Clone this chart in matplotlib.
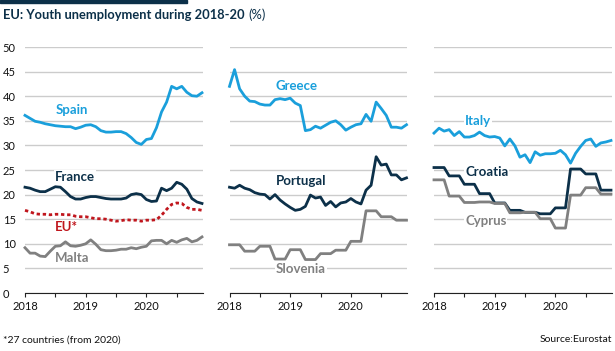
import matplotlib
matplotlib.use("Agg")
import matplotlib.pyplot as plt
from matplotlib.patches import Rectangle

plt.rcParams['font.family'] = ['Lato', 'DejaVu Sans']

# monthly values, Jan 2018 - Dec 2020
months = list(range(36))

spain = [36.1, 35.5, 34.9, 34.7, 34.4, 34.2, 34.0, 33.9, 33.8, 33.8, 33.4, 33.7,
         34.1, 34.2, 33.8, 33.0, 32.7, 32.7, 32.8, 32.8, 32.4, 31.6, 30.6, 30.2,
         31.2, 31.4, 33.6, 36.8, 38.8, 42.0, 41.5, 42.0, 40.8, 40.1, 40.0, 40.7]
france = [21.5, 21.3, 20.9, 20.6, 20.6, 21.1, 21.6, 21.5, 20.6, 19.6, 19.1, 19.1,
          19.4, 19.6, 19.6, 19.4, 19.2, 19.1, 19.1, 19.1, 19.3, 20.0, 20.2, 20.0,
          19.0, 18.6, 18.7, 21.3, 20.8, 21.3, 22.5, 22.1, 21.1, 19.2, 18.5, 18.2]
eu = [16.8, 16.5, 16.1, 16.0, 16.0, 15.9, 16.0, 16.0, 15.9, 15.9, 15.6, 15.5,
      15.5, 15.3, 15.1, 15.1, 15.0, 14.8, 14.6, 14.7, 14.9, 14.8, 14.8, 14.6,
      14.8, 14.8, 14.9, 15.8, 17.0, 18.0, 18.3, 18.2, 17.4, 17.0, 17.0, 16.8]
malta = [9.2, 8.1, 8.1, 7.5, 7.4, 8.5, 9.5, 9.6, 10.4, 9.6, 9.5, 9.7,
         10.0, 10.8, 9.9, 8.8, 8.6, 8.6, 8.7, 8.9, 8.9, 9.2, 9.0, 9.3,
         9.5, 10.6, 10.7, 10.7, 10.0, 10.7, 10.3, 10.8, 11.1, 10.4, 10.7, 11.4]

greece = [42.0, 45.4, 41.5, 40.0, 39.0, 38.9, 38.4, 38.2, 38.2, 39.3, 39.5, 39.3,
          39.6, 38.6, 38.1, 33.0, 33.2, 33.9, 33.5, 34.1, 34.7, 35.0, 34.2, 33.1,
          33.7, 34.2, 34.4, 36.3, 34.9, 38.8, 37.5, 36.1, 33.7, 33.7, 33.5, 34.2]
portugal = [21.5, 21.3, 21.9, 21.3, 21.0, 20.4, 20.1, 20.0, 19.1, 20.0, 18.9, 18.1,
            17.4, 16.8, 17.0, 17.6, 19.9, 19.3, 19.5, 17.8, 18.6, 17.5, 18.3, 18.5,
            19.2, 18.5, 18.1, 20.9, 21.9, 27.7, 26.0, 26.2, 24.0, 24.0, 23.0, 23.4]
slovenia = [9.8, 9.8, 9.8, 8.5, 8.5, 8.5, 9.5, 9.5, 9.5, 6.9, 6.9, 6.9,
            8.8, 8.8, 8.8, 6.8, 6.8, 6.8, 8.0, 8.0, 8.0, 8.7, 8.7, 8.7,
            10.5, 10.5, 10.5, 16.7, 16.7, 16.7, 15.5, 15.5, 15.5, 14.8, 14.8, 14.8]

italy = [32.5, 33.5, 32.9, 33.2, 32.0, 32.8, 31.7, 31.7, 32.0, 32.7, 32.0, 31.7,
         31.8, 31.5, 29.9, 31.3, 29.9, 27.6, 28.1, 26.5, 28.7, 28.0, 28.3, 28.3,
         28.4, 29.0, 28.1, 26.4, 28.4, 29.8, 31.0, 31.3, 29.8, 30.5, 30.7, 31.0]
croatia = [25.5, 25.5, 25.5, 23.8, 23.8, 23.8, 22.1, 22.1, 22.1, 20.2, 20.2, 20.2,
           18.3, 18.3, 18.3, 16.8, 16.8, 16.8, 16.4, 16.4, 16.4, 16.1, 16.1, 16.1,
           17.3, 17.3, 17.3, 25.2, 25.2, 25.2, 24.2, 24.2, 24.2, 20.9, 20.9, 20.9]
cyprus = [23.0, 23.0, 23.0, 19.7, 19.7, 19.7, 18.4, 18.4, 18.4, 18.5, 18.5, 18.5,
          18.2, 18.2, 18.2, 16.3, 16.3, 16.3, 16.4, 16.4, 16.4, 15.1, 15.1, 15.1,
          13.2, 13.2, 13.2, 19.9, 19.9, 19.9, 21.4, 21.4, 21.4, 20.1, 20.1, 20.1]

year_labels = ["2018", "", "2019", "", "2020", ""]

BLUE = "#1a9fdb"
NAVY = "#0c3049"
GREY = "#808080"
RED = "#c0161d"

fig = plt.figure(figsize=(6.15, 3.51), dpi=100)

lefts = [25 / 615, 229.5 / 615, 434 / 615]
width = 177.5 / 615
bottom = 58 / 351
height = 246 / 351

panels = [
    [(spain, BLUE, "Spain", (56, 110), "-"),
     (france, NAVY, "France", (55, 177), "-"),
     (eu, RED, "EU*", (55, 227), "dot"),
     (malta, GREY, "Malta", (55, 258), "-")],
    [(greece, BLUE, "Greece", (276, 86), "-"),
     (portugal, NAVY, "Portugal", (276, 181), "-"),
     (slovenia, GREY, "Slovenia", (276, 269), "-")],
    [(italy, BLUE, "Italy", (465, 121), "-"),
     (croatia, NAVY, "Croatia", (465, 172), "-"),
     (cyprus, GREY, "Cyprus", (465, 221), "-")],
]

for k, series in enumerate(panels):
    ax = fig.add_axes([lefts[k], bottom, width, height])
    ax.set_xlim(0, 35.1)
    ax.set_ylim(0, 50)
    ax.set_yticks(range(0, 51, 5))
    ax.grid(axis="y", color="#cccccc", lw=1)
    ax.set_axisbelow(True)
    for s in ["left", "right", "top"]:
        ax.spines[s].set_visible(False)
    ax.spines["bottom"].set_color("#222222")
    ax.spines["bottom"].set_linewidth(0.8)
    ax.set_xticks(range(0, 31, 6))
    ax.set_xticklabels(year_labels)
    ax.tick_params(axis="x", length=3, width=0.8, color="#222222", labelsize=8,
                   pad=3, labelcolor="#111111")
    if k == 0:
        ax.tick_params(axis="y", length=0, labelsize=8, pad=16, labelcolor="#111111")
        for lab in ax.get_yticklabels():
            lab.set_ha("left")
    else:
        ax.tick_params(axis="y", length=0, labelleft=False)

    for vals, col, name, pos, style in series:
        if style == "dot":
            ax.plot(months, vals, color=col, lw=2, ls=(0, (1.2, 1.0)), clip_on=False)
        else:
            ax.plot(months, vals, color=col, lw=2, clip_on=False)
        fig.text(pos[0] / 615, 1 - pos[1] / 351, name, color=col, fontsize=9.5,
                 fontweight="bold", va="center", ha="left",
                 bbox=dict(facecolor="white", edgecolor="none", pad=0.5))

# title bar and title
fig.patches.append(Rectangle((0, 1 - 3 / 351), 187 / 615, 3 / 351,
                             transform=fig.transFigure, color=NAVY))
title = fig.text(3 / 615, 1 - 15 / 351, "EU: Youth unemployment during 2018-20",
                 fontsize=9.3, fontweight="bold", color=NAVY, va="center", ha="left")
renderer = fig.canvas.get_renderer()
bb = title.get_window_extent(renderer)
fig.text((bb.x1 + 4) / 615, 1 - 15 / 351, "(%)", fontsize=9.3, color=NAVY,
         va="center", ha="left")

fig.text(3 / 615, 1 - 340 / 351, "*27 countries (from 2020)", fontsize=7.5,
         color="#111111", va="center", ha="left")
fig.text(612 / 615, 1 - 340 / 351, "Source:Eurostat", fontsize=7.5,
         color="#111111", va="center", ha="right")

fig.savefig("out.png", dpi=100)
